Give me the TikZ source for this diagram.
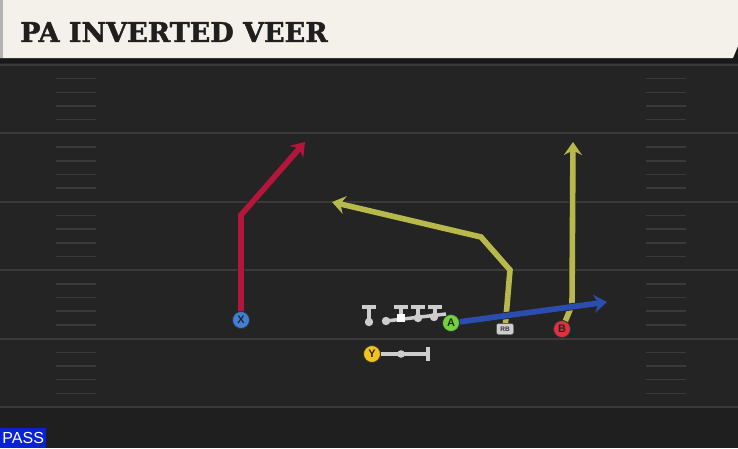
\documentclass[tikz,border=0pt]{standalone}
\usepackage{fontspec}
\setsansfont{Liberation Sans}
\newfontfamily\titlefont{DejaVu Serif}[FakeBold=1.5]
\usetikzlibrary{arrows.meta,calc}
\definecolor{field}{HTML}{242424}
\definecolor{fieldlow}{HTML}{1F1F1F}
\definecolor{yardgray}{HTML}{3A3A3A}
\definecolor{banner}{HTML}{F4F1EA}
\definecolor{passblue}{HTML}{0A22D6}
\definecolor{routered}{HTML}{B3163A}
\definecolor{routeyellow}{HTML}{B9B84A}
\definecolor{routeblue}{HTML}{2B4DB0}
\definecolor{xblue}{HTML}{3F7FD8}
\definecolor{agreen}{HTML}{72D43C}
\definecolor{bred}{HTML}{E2303C}
\definecolor{yyellow}{HTML}{F2C21E}
\definecolor{olgray}{HTML}{CDCDCD}
\tikzstyle{route}=[line width=5.6pt, -{Stealth[length=13pt,width=18pt,inset=4.5pt]}, preaction={draw=black!85, line width=7.2pt, -{Stealth[length=14.5pt,width=20pt,inset=5pt]}}]
\tikzstyle{player}=[circle, draw=black!80, line width=0.8pt, minimum size=17pt, inner sep=0pt, font=\sffamily\bfseries\fontsize{11}{11}\selectfont, text=black!85]
\tikzstyle{blk}=[draw=olgray, line width=3.5pt]
\tikzstyle{yardline}=[draw=yardgray, line width=2pt]
\tikzstyle{hash}=[draw=yardgray, line width=1.5pt]
\newcommand{\fieldtop}{65}
\newcommand{\yard}{13.68}
\begin{document}
\begin{tikzpicture}[x=1pt,y=-1pt]
\useasboundingbox (0,0) rectangle (738,448);
\fill[field] (0,0) rectangle (738,448);
\fill[fieldlow] (0,408) rectangle (738,448);
\foreach \j in {0,5,...,25}
	\draw[yardline] (0,\fieldtop+\j*\yard) -- (738,\fieldtop+\j*\yard);
\foreach \j in {1,...,24} {
	\pgfmathtruncatemacro{\m}{mod(\j,5)}
	\ifnum\m>0
		\draw[hash] (56,\fieldtop+\j*\yard) -- (96,\fieldtop+\j*\yard);
		\draw[hash] (646,\fieldtop+\j*\yard) -- (686,\fieldtop+\j*\yard);
	\fi
}
\fill[black!90] (0,0) rectangle (738,63);
\fill[banner] (0,0) -- (738,0) -- (738,46) -- (733,58) -- (0,58) -- cycle;
\fill[gray!60] (0,0) rectangle (3,58);
\node[anchor=west, inner sep=0pt, text=black!88, font=\titlefont\bfseries\fontsize{27}{27}\selectfont] (title) at (20,32) {PA INVERTED VEER};
\node[fill=passblue, text=white, font=\sffamily\fontsize{16}{16}\selectfont, anchor=south west, inner sep=0pt, minimum width=46pt, minimum height=20pt] (pass) at (0,448) {PASS};
\node[player, fill=xblue] (X) at (241,320) {X};
\node[player, fill=agreen] (A) at (451,323) {A};
\node[player, fill=bred] (B) at (562,329) {B};
\node[player, fill=yyellow] (Y) at (372,354) {Y};
\node[fill=olgray, draw=black!70, rounded corners=2pt, inner sep=0pt, minimum width=17pt, minimum height=11pt, font=\sffamily\bfseries\fontsize{6.5}{6.5}\selectfont, text=black!80] (RB) at (505,329) {RB};
\foreach \x/\y in {369/322, 401/318, 418/317, 435/316} {
	\draw[blk, line width=4.5pt] (\x-7,307) -- (\x+7,307);
	\draw[blk] (\x,307) -- (\x,\y);
}
\draw[blk] (386,321) -- (446,314);
\foreach \x/\y in {369/322, 386/321, 418/318, 434/317}
	\fill[olgray] (\x,\y) circle (4.2);
\fill[white] (397,314) rectangle (405,322);
\coordinate (yend) at (428,354);
\draw[blk] (Y) -- (yend);
\draw[blk] (428,347) -- (428,361);
\fill[olgray] (401,354) circle (3.8);
\coordinate (x1) at (241,215);
\coordinate (x2) at (305,142);
\coordinate (rb1) at (510,270);
\coordinate (rb2) at (481,237);
\coordinate (rb3) at (332,202);
\coordinate (b1) at (572,305);
\coordinate (b2) at (573,142);
\coordinate (a1) at (607,302);
\draw[route, draw=routered] (X) -- (x1) -- (x2);
\draw[route, draw=routeyellow] (RB) -- (rb1) -- (rb2) -- (rb3);
\draw[route, draw=routeyellow] (B) -- (b1) -- (b2);
\draw[route, draw=routeblue] (A) -- (a1);
\end{tikzpicture}
\end{document}
